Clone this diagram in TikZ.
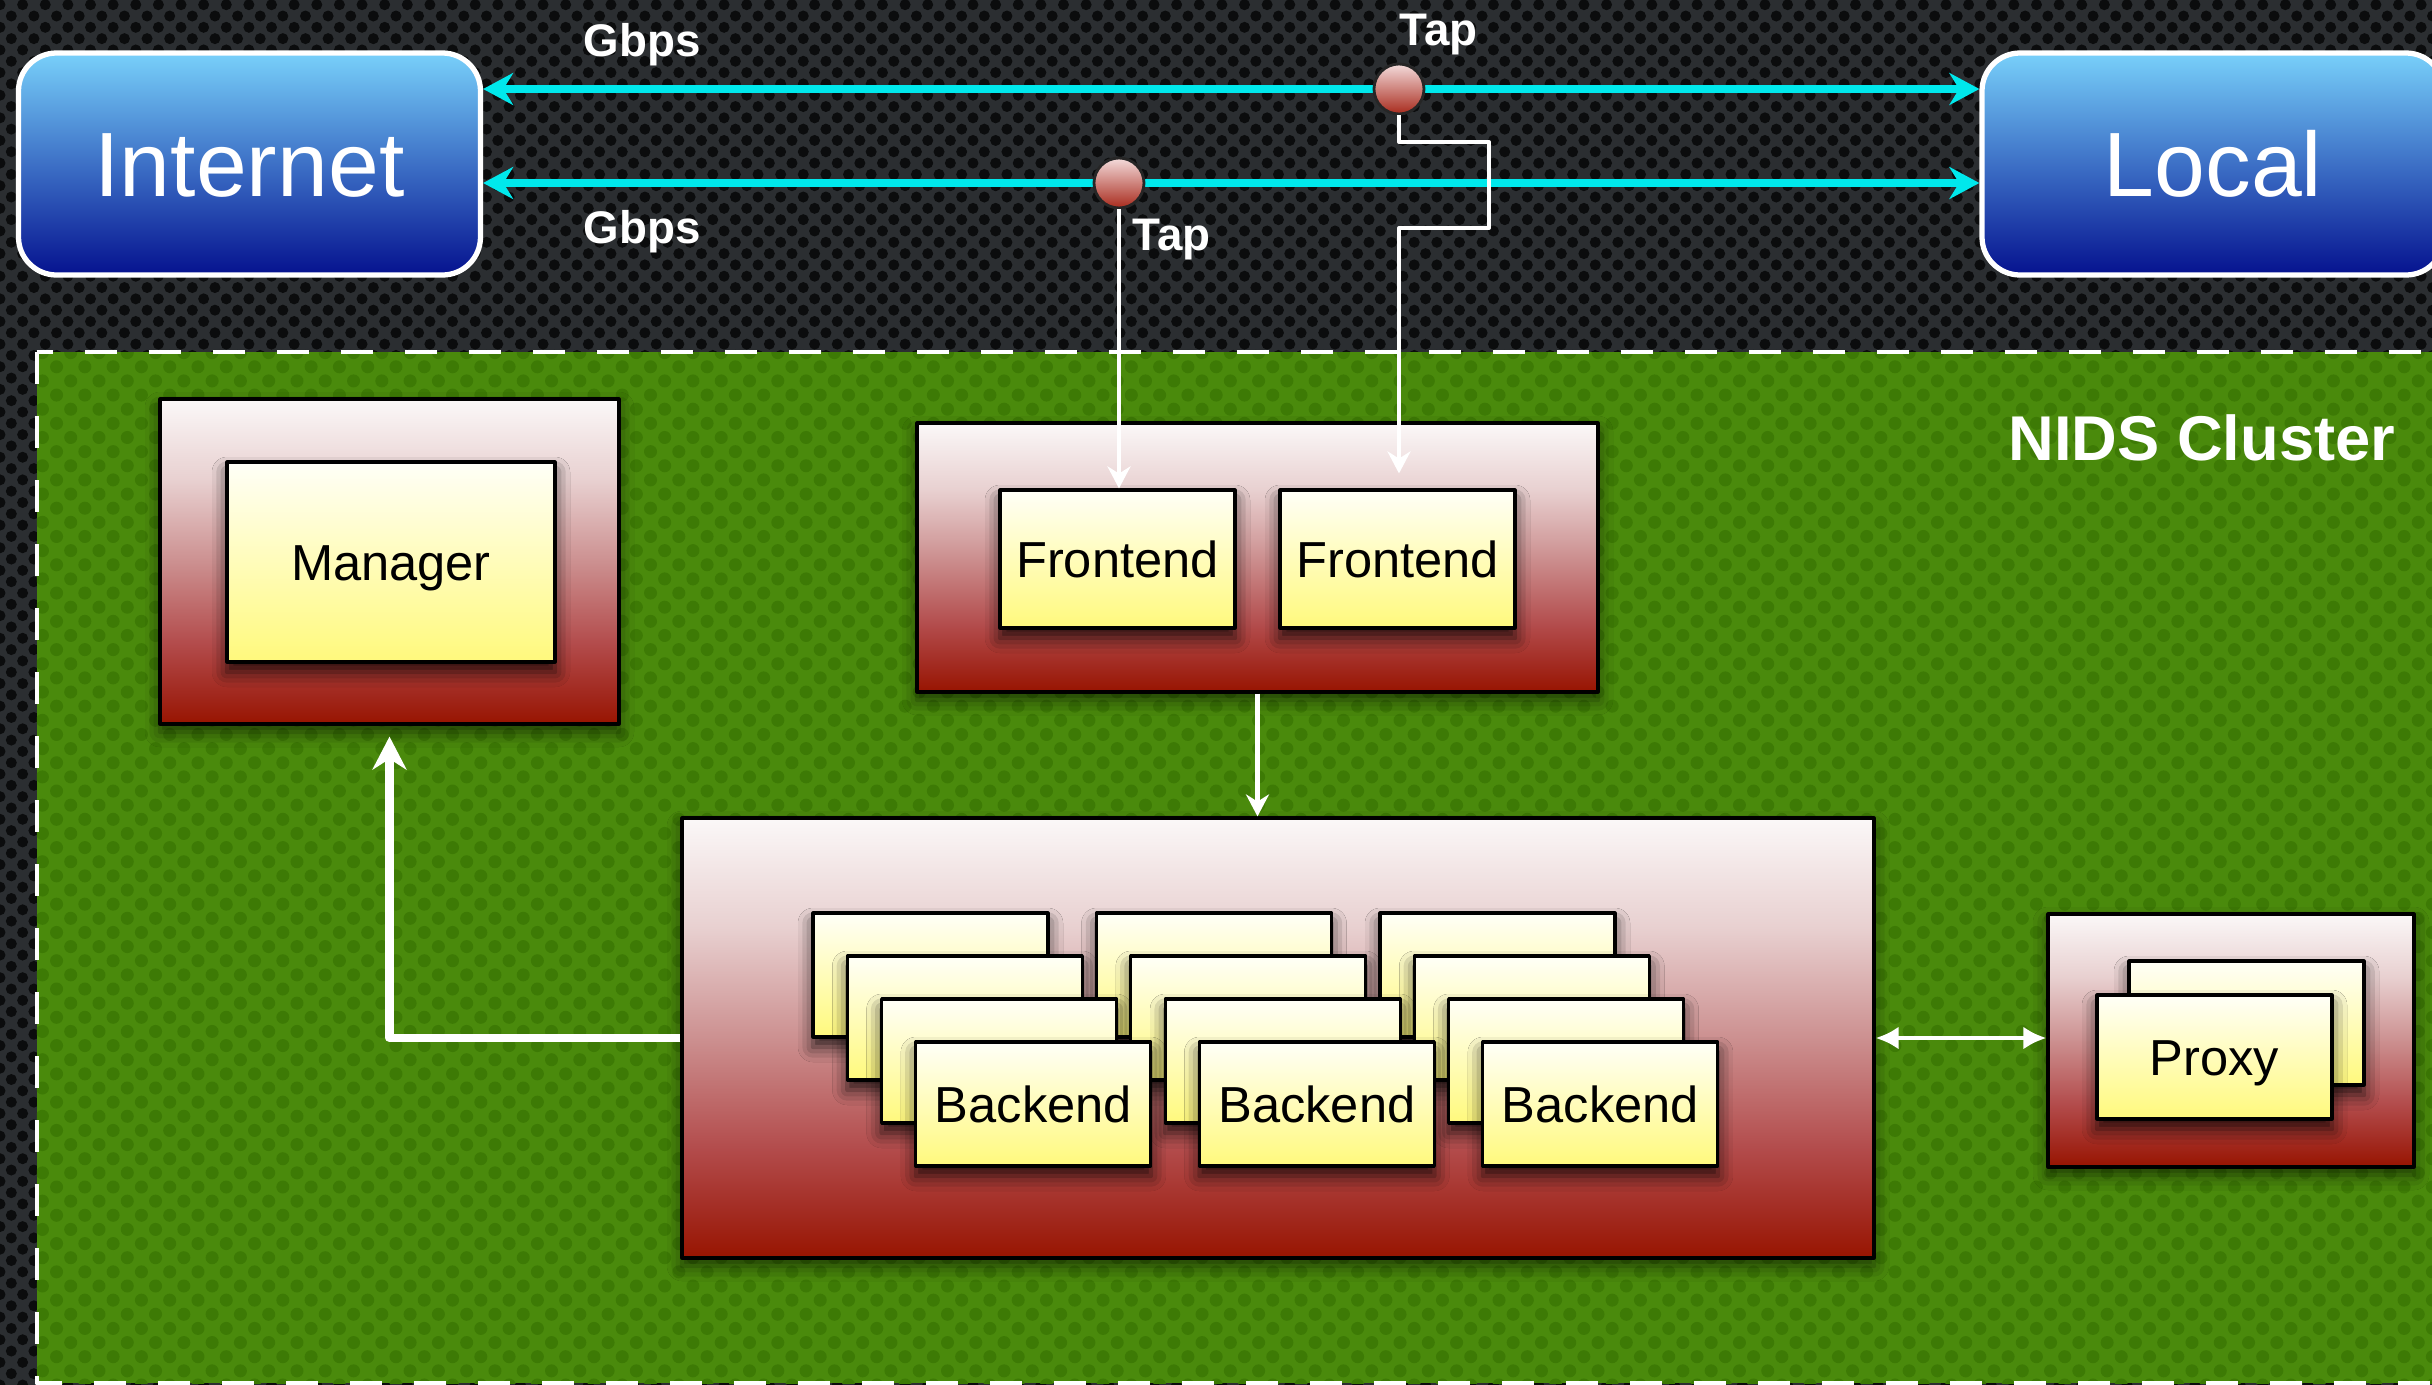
\documentclass[tikz,border=0pt]{standalone}
\usepackage{fontspec}
\setmainfont{Liberation Sans}
\usetikzlibrary{arrows.meta,shadows.blur,patterns.meta,calc}
\definecolor{meshbg}{HTML}{2B2E31}
\definecolor{meshhole}{HTML}{0B0C0D}
\definecolor{lawn}{HTML}{4A8A0C}
\definecolor{lawndot}{HTML}{3D7A05}
\definecolor{wire}{HTML}{00E8EC}
\definecolor{skytop}{HTML}{78D0FA}
\definecolor{skymid}{HTML}{3D70C6}
\definecolor{skybot}{HTML}{05128F}
\definecolor{rtop}{HTML}{FBF8F8}
\definecolor{rone}{HTML}{E8D0D0}
\definecolor{rtwo}{HTML}{CC9090}
\definecolor{rthree}{HTML}{B34C4C}
\definecolor{rfour}{HTML}{A22A20}
\definecolor{rbot}{HTML}{981400}
\definecolor{padtop}{HTML}{FFFFF8}
\definecolor{padbot}{HTML}{FFF97C}
\definecolor{taptop}{HTML}{F4DCDC}
\definecolor{tapbot}{HTML}{A82A1C}
\pgfdeclareverticalshading{redbox}{100bp}{color(0bp)=(rbot); color(25bp)=(rbot); color(30bp)=(rfour); color(37.5bp)=(rthree); color(50bp)=(rtwo); color(62.5bp)=(rone); color(75bp)=(rtop); color(100bp)=(rtop)}
\begin{document}
\begin{tikzpicture}[line join=round,>=Stealth]
\tikzset{site/.style={rectangle, rounded corners=0.38cm, draw=white, line width=1.5pt,
    top color=skytop, bottom color=skybot, middle color=skymid,
    minimum width=4.62cm, minimum height=2.22cm, text=white,
    text height=18.6pt, text depth=0pt, font=\fontsize{26}{30}\selectfont},
  tag/.style={text=white, inner sep=0pt, font=\bfseries\fontsize{13}{15}\selectfont},
  tapdot/.style={circle, draw=black!85, line width=0.8pt, minimum size=0.5cm, inner sep=0pt,
    top color=taptop, bottom color=tapbot},
  link/.style={draw=wire, line width=2pt, arrows={Stealth[length=3mm,width=3.2mm]-Stealth[length=3mm,width=3.2mm]}},
  tray/.style={draw=black, line width=0.9pt, shade, shading=redbox,
    blur shadow={shadow xshift=0cm, shadow yshift=-0.08cm, shadow blur radius=0.15cm, shadow opacity=60}},
  card/.style={draw=black, line width=0.9pt, top color=padtop, bottom color=padbot,
    minimum width=2.35cm, minimum height=1.24cm, inner sep=0pt,
    text height=10.3pt, text depth=0pt, font=\fontsize{14.4}{17}\selectfont,
    blur shadow={shadow xshift=0cm, shadow yshift=-0.1cm, shadow blur radius=0.15cm, shadow opacity=80}},
  feed/.style={draw=white, line width=1.15pt, arrows={-Stealth[length=2.2mm,width=2.3mm]}}}
\useasboundingbox (0,0) rectangle (24.32,-13.85);
\clip (0,0) rectangle (24.32,-13.85);
\fill[meshbg] (0,0) rectangle (24.32,-13.85);
\fill[pattern={Dots[distance=0.16cm, radius=0.055cm, angle=45]}, pattern color=meshhole] (0,0) rectangle (24.32,-13.85);
\fill[lawn] (0.37,-3.52) rectangle (24.7,-13.83);
\fill[pattern={Dots[distance=0.2cm, radius=0.065cm, angle=45]}, pattern color=lawndot] (0.37,-3.52) rectangle (24.7,-13.83);
\draw[white, line width=1.4pt, dash pattern=on 0.32cm off 0.32cm] (0.37,-3.52) rectangle (24.7,-13.83);
\node[tag, font=\bfseries\fontsize{18}{21}\selectfont, anchor=base east] (title) at (23.96,-4.60) {NIDS Cluster};

\node[site] (internet) at (2.495,-1.64) {Internet};
\node[site] (local) at (22.13,-1.64) {Local};
\coordinate (tapAt) at (11.19,-1.83);
\coordinate (tapBt) at (13.99,-0.89);
\draw[link] (internet.east |- tapBt) -- (local.west |- tapBt);
\draw[link] (internet.east |- tapAt) -- (local.west |- tapAt);
\node[tapdot] (tapA) at (tapAt) {};
\node[tapdot] (tapB) at (tapBt) {};
\node[tag, anchor=base west] (gbpsB) at (5.83,-0.56) {Gbps};
\node[tag, anchor=base west] (gbpsA) at (5.83,-2.43) {Gbps};
\node[tag, anchor=base west] (tapBlabel) at (13.99,-0.45) {Tap};
\node[tag, anchor=base west] (tapAlabel) at (11.32,-2.50) {Tap};

\node[tray, minimum width=4.59cm, minimum height=3.25cm] (mgrbox) at (3.895,-5.615) {};
\node[card, minimum width=3.28cm, minimum height=2.00cm] (mgr) at (3.91,-5.62) {Manager};

\node[tray, minimum width=6.81cm, minimum height=2.69cm] (febox) at (12.575,-5.575) {};
\node[card, minimum height=1.38cm] (fe1) at (11.175,-5.59) {Frontend};
\node[card, minimum height=1.38cm] (fe2) at (13.975,-5.59) {Frontend};

\node[tray, minimum width=11.92cm, minimum height=4.40cm] (bebox) at (12.78,-10.38) {};
\foreach \l in {0,1,2}
  \foreach \s in {0,1,2}
    \node[card] (be\s\l) at ({9.305+2.835*\s+0.343*\l},{-9.75-0.43*\l}) {};
\foreach \s in {0,1,2}
  \node[card] (be\s3) at ({9.305+2.835*\s+0.343*3},{-9.75-0.43*3}) {Backend};

\node[tray, minimum width=3.66cm, minimum height=2.53cm] (pxbox) at (22.31,-10.405) {};
\node[card] (pxback) at (22.465,-10.23) {};
\node[card] (px) at (22.145,-10.57) {Proxy};

\draw[feed] (tapA.south) -- (tapA.south |- fe1.north);
\draw[feed] (tapB.south) |- (14.89,-1.42) |- (13.99,-2.28) -- ($(tapB.south |- fe2.north)+(0,0.15)$);
\draw[feed, line width=1.3pt] (febox.south) -- (febox.south |- bebox.north);
\draw[feed, line width=2.3pt, arrows={-Stealth[length=3.3mm,width=3.4mm]}] (bebox.west) -| ($(mgrbox.south)+(0,-0.11)$);
\draw[feed, line width=1.4pt, arrows={Latex[length=2.3mm,width=2.3mm]-Latex[length=2.3mm,width=2.3mm]}] (bebox.east) -- (bebox.east -| pxbox.west);
\end{tikzpicture}
\end{document}
